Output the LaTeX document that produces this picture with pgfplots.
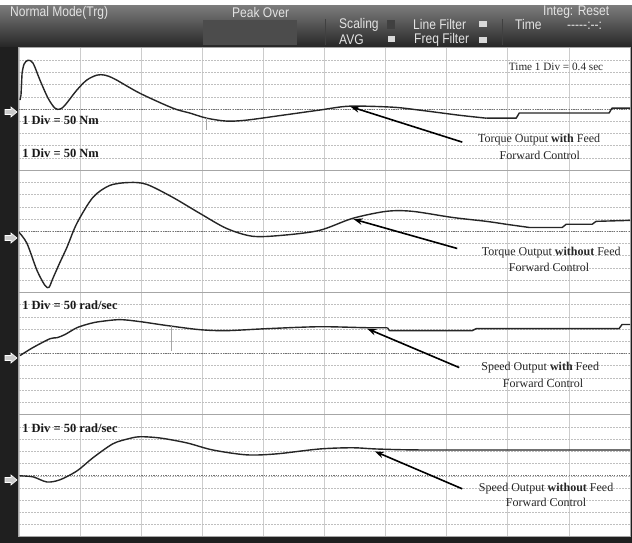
\documentclass[border=0pt]{standalone}
\usepackage{pgfplots}
\pgfplotsset{compat=1.18}
\usepackage{fontspec}
\setmainfont{Liberation Serif}
\newfontfamily\hdr[FakeStretch=0.86]{Liberation Sans}
\usetikzlibrary{arrows.meta}

\pgfplotsset{panel/.style={
  scale only axis, width=611pt, height=122.25pt,
  xmin=0, xmax=4, ymin=-250, ymax=250,
  xtick={0,0.4,0.8,1.2,1.6,2,2.4,2.8,3.2,3.6,4},
  ytick={-200,-150,-100,-50,0,50,100,150,200},
  xticklabels={}, yticklabels={}, tick style={draw=none},
  xmajorgrids, ymajorgrids,
  major x grid style={gray!40, line width=0.7pt},
  major y grid style={gray!50, line width=0.7pt, dash pattern=on 2pt off 1pt},
  axis line style={gray!70, line width=1pt},
  axis background/.style={fill=white},
  anchor=south west,
}}
\tikzset{
trace/.style={black!85, line width=1.4pt, line join=round},
strace/.style={black!85, line width=1.4pt, line join=round, smooth, tension=0.5},
spike/.style={gray!70, line width=0.8pt},
ann/.style={font=\fontsize{12}{13}\selectfont, text=black!85, inner sep=0pt},
tdiv/.style={font=\fontsize{11.2}{12}\selectfont, text=black!85, inner sep=0pt},
div/.style={font=\fontsize{12.5}{13}\selectfont\bfseries, text=black!90, inner sep=0pt, anchor=west},
arr/.style={-{Stealth[length=9pt,width=6.5pt]}, line width=1.6pt, black},
zero/.style={black!55, line width=1.1pt, dash pattern=on 1.2pt off 1.2pt}
}

\begin{document}
\begin{tikzpicture}
\useasboundingbox (0pt,0pt) rectangle (632pt,543pt);
% frame
\fill[black!88] (0pt,0pt) rectangle (632pt,543pt);
\fill[white] (0pt,537pt) rectangle (632pt,543pt);
\shade[top color=black!52, bottom color=black!85] (0pt,496pt) rectangle (632pt,537pt);
\fill[black!70] (203pt,498pt) rectangle (297pt,523pt);
\draw[black!75, line width=0.8pt] (325pt,498pt) -- (325pt,524pt);
\draw[black!75, line width=0.8pt] (502pt,498pt) -- (502pt,524pt);
% header texts
\begin{scope}[every node/.style={inner sep=0pt, anchor=west, text=gray!22, font=\hdr\fontsize{14}{14}\selectfont}]
\node at (10pt,530pt) {Normal Mode(Trg)};
\node at (232pt,530pt) {Peak Over};
\node at (339pt,518pt) {Scaling};
\node at (339pt,503pt) {AVG};
\node at (413pt,518pt) {Line Filter};
\node at (414pt,503pt) {Freq Filter};
\node at (515pt,518pt) {Time};
\node at (543pt,531pt) {Integ: Reset};
\node at (567pt,517pt) {-----:--:};
\end{scope}
\fill[black!75] (387pt,514pt) rectangle (395pt,523pt);
\fill[gray!30] (388pt,501pt) rectangle (395pt,507pt);
\fill[gray!30] (479pt,516pt) rectangle (487pt,522pt);
\fill[gray!30] (479pt,500pt) rectangle (487pt,506pt);

% ---------- Panel 1: torque with feed forward (1 div = 50 Nm)
\begin{axis}[panel, at={(19pt,372.75pt)}]
\draw[zero] (axis cs:0,0) -- (axis cs:4,0);
\addplot[trace] coordinates {(0.0065,37) (0.013,57) (0.020,147)};
\addplot[strace] coordinates {
(0.020,147) (0.033,184) (0.059,200) (0.092,188)
(0.137,119) (0.190,45) (0.235,4) (0.268,0) (0.301,16) (0.379,78)
(0.444,119) (0.510,139) (0.562,139) (0.627,123) (0.791,65) (1.007,4)
(1.118,-16) (1.229,-37) (1.359,-49) (1.490,-45)
(1.725,-25) (1.967,-4) (2.163,12) (2.444,8) (2.621,-4) (2.882,-25)
(3.059,-37)
};
\addplot[trace] coordinates {
(3.059,-37) (3.255,-37) (3.275,-16) (3.863,-16) (3.882,4) (4.0,4)
};
\addplot[spike] coordinates {(1.229,-37) (1.229,-86)};
\node[tdiv] at (axis cs:3.516,172) {Time 1 Div = 0.4 sec};
\node[div] at (axis cs:0.02,-45) {1 Div = 50 Nm};
\node[div] at (axis cs:0.02,-180) {1 Div = 50 Nm};
\draw[arr] (axis cs:2.902,-135) -- (axis cs:2.17,10);
\node[ann] at (axis cs:3.405,-123) {Torque Output \textbf{with} Feed};
\node[ann] at (axis cs:3.41,-188) {Forward Control};
\end{axis}

% ---------- Panel 2: torque without feed forward
\begin{axis}[panel, at={(19pt,250.5pt)}]
\draw[zero] (axis cs:0,0) -- (axis cs:4,0);
\addplot[strace] coordinates {
(0,-4) (0.052,-49) (0.118,-160) (0.170,-221) (0.196,-229) (0.222,-192)
(0.268,-127) (0.314,-65) (0.379,33) (0.484,139) (0.595,188) (0.725,200)
(0.837,192) (1.007,139) (1.183,74) (1.359,12) (1.529,-20) (1.725,-16)
(1.967,4) (2.183,53) (2.405,82) (2.575,82) (2.837,57) (3.059,41)
(3.190,29)
};
\addplot[trace] coordinates {
(3.190,29) (3.340,16) (3.556,16) (3.582,29) (3.752,29) (3.778,41) (4.0,45)
};
\draw[arr] (axis cs:2.869,-70) -- (axis cs:2.19,50);
\node[ann] at (axis cs:3.484,-86) {Torque Output \textbf{without} Feed};
\node[ann] at (axis cs:3.47,-147) {Forward Control};
\end{axis}

% ---------- Panel 3: speed with feed forward (1 div = 50 rad/sec)
\begin{axis}[panel, at={(19pt,128.25pt)}]
\draw[zero] (axis cs:0,0) -- (axis cs:4,0);
\addplot[strace] coordinates {
(0.0065,-8) (0.092,25) (0.203,61) (0.248,65) (0.301,78) (0.379,106)
(0.464,123) (0.529,131) (0.660,139) (0.791,131) (0.967,115)
(1.183,98) (1.359,94) (1.621,102) (1.967,110)
(2.275,106) (2.412,106)
};
\addplot[trace] coordinates {
(2.412,106) (2.425,94) (2.967,94) (2.993,102) (3.928,102)
(3.948,119) (4.0,119)
};
\addplot[spike] coordinates {(1.0,112) (1.0,12)};
\node[div] at (axis cs:0.02,196) {1 Div = 50 rad/sec};
\draw[arr] (axis cs:2.882,-57) -- (axis cs:2.28,102);
\node[ann] at (axis cs:3.412,-57) {Speed Output \textbf{with} Feed};
\node[ann] at (axis cs:3.431,-123) {Forward Control};
\end{axis}

% ---------- Panel 4: speed without feed forward
\begin{axis}[panel, at={(19pt,6pt)}]
\draw[zero] (axis cs:0,0) -- (axis cs:4,0);
\addplot[strace] coordinates {
(0.0065,0) (0.092,-4) (0.183,-25) (0.268,-16) (0.379,20) (0.484,74)
(0.614,131) (0.712,151) (0.791,160) (0.922,155) (1.098,135) (1.268,106)
(1.490,86) (1.686,90) (1.967,110) (2.183,115) (2.340,110) (2.621,106) (3.3,106) (4.0,106)
};
\node[div] at (axis cs:0.02,196) {1 Div = 50 rad/sec};
\draw[arr] (axis cs:2.902,-53) -- (axis cs:2.33,100);
\node[ann] at (axis cs:3.451,-53) {Speed Output \textbf{without} Feed};
\node[ann] at (axis cs:3.451,-110) {Forward Control};
\end{axis}

% zero-level markers on the left border
\foreach \yy in {431,305,185,63}{
  \draw[white, fill=gray!40, line width=0.6pt]
    (5pt,\yy pt+2.5pt) -- (11pt,\yy pt+2.5pt) -- (11pt,\yy pt+5pt) -- (17pt,\yy pt) -- (11pt,\yy pt-5pt) -- (11pt,\yy pt-2.5pt) -- (5pt,\yy pt-2.5pt) -- cycle;
}
\end{tikzpicture}
\end{document}
